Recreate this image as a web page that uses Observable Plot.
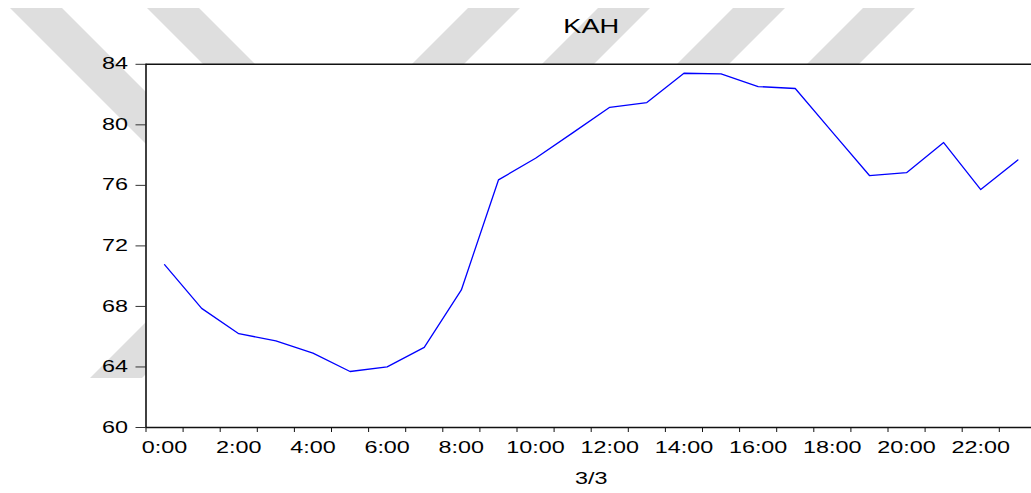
<!DOCTYPE html>
<html>
<head>
<meta charset="utf-8">
<script src="https://cdn.jsdelivr.net/npm/d3@7"></script>
<script src="https://cdn.jsdelivr.net/npm/@observablehq/plot@0.6"></script>
<style>
  html, body { margin: 0; padding: 0; background: #fff; overflow: hidden; }
  #chart { position: relative; width: 1031px; height: 493px; overflow: hidden; }
</style>
</head>
<body>
<div id="chart"></div>
<script>
// Series title and date caption
const title = "KAH";
const dateLabel = "3/3";

// Hour of day (0..23) and hourly KAH readings
const hours = [0, 1, 2, 3, 4, 5, 6, 7, 8, 9, 10, 11, 12, 13, 14, 15, 16, 17, 18, 19, 20, 21, 22, 23];
const kah = [70.76, 67.87, 66.20, 65.73, 64.92, 63.70, 64.01, 65.29, 69.09, 76.36, 77.79, 79.47,
             81.16, 81.47, 83.41, 83.37, 82.53, 82.40, 79.52, 76.65, 76.84, 78.83, 75.72, 77.68];

// Axis ticks
const yTicks = [60, 64, 68, 72, 76, 80, 84];
const labelHours = [0, 2, 4, 6, 8, 10, 12, 14, 16, 18, 20, 22];
const hourLabels = ["0:00", "2:00", "4:00", "6:00", "8:00", "10:00", "12:00", "14:00", "16:00", "18:00", "20:00", "22:00"];
const hourEdges = d3.range(-0.5, 23, 1);

const data = hours.map((h, i) => ({hour: h, value: kah[i]}));

// Light grey diagonal bands drawn behind the chart (pixel polygons)
const watermarkBands = [
  [[10, 8], [62, 8], [254, 200], [202, 200]],
  [[147, 8], [199, 8], [262, 71], [210, 71]],
  [[468, 8], [520, 8], [457, 71], [405, 71]],
  [[598, 8], [650, 8], [587, 71], [535, 71]],
  [[733, 8], [785, 8], [722, 71], [670, 71]],
  [[863, 8], [915, 8], [852, 71], [800, 71]],
  [[90, 378], [142, 378], [202, 318], [150, 318]]
];

function watermark() {
  const g = d3.create("svg:g").attr("fill", "#dedede");
  for (const band of watermarkBands) {
    g.append("polygon").attr("points", band.map(p => p.join(",")).join(" "));
  }
  return g.node();
}

const chart = Plot.plot({
  width: 1031,
  height: 493,
  marginTop: 63.8,
  marginBottom: 66,
  marginLeft: 145.5,
  marginRight: -4.9,
  style: {
    background: "transparent",
    fontFamily: "Arial, 'Liberation Sans', sans-serif",
    fontSize: "16px",
    color: "#000"
  },
  x: {type: "linear", domain: [-0.5, 23.5]},
  y: {domain: [60, 84]},
  marks: [
    watermark,
    Plot.frame({fill: "white", stroke: "none"}),
    Plot.ruleY([84], {stroke: "#111", strokeWidth: 1.6}),
    Plot.axisY({ticks: yTicks, tickSize: 10, tickPadding: 8, tickFormat: d => String(d), label: null, stroke: "#333", strokeOpacity: 1, fill: "#000"}),
    Plot.axisX({ticks: hourEdges, tickSize: 5, tickFormat: () => "", label: null, stroke: "#111", strokeOpacity: 1}),
    Plot.axisX({ticks: labelHours, tickSize: 0, tickPadding: 14, tickFormat: d => hourLabels[labelHours.indexOf(d)], label: null, fill: "#000"}),
    Plot.ruleY([60], {stroke: "#111", strokeWidth: 1.6}),
    Plot.ruleX([-0.5], {stroke: "#111", strokeWidth: 1.6}),
    Plot.line(data, {x: "hour", y: "value", stroke: "#0000ff", strokeWidth: 1.3}),
    Plot.text([title], {frameAnchor: "top", lineAnchor: "bottom", dy: -31.5, fontSize: 20, fill: "#000"}),
    Plot.text([dateLabel], {frameAnchor: "bottom", lineAnchor: "bottom", dy: 56.3, fill: "#000"})
  ]
});

document.getElementById("chart").appendChild(chart);

// The type is drawn wide: widen every label horizontally about its own anchor
chart.querySelectorAll("text").forEach(t => {
  if (!t.textContent) return;
  const k = t.textContent === title ? 1.36 : 1.46;
  const b = t.getBBox();
  const anchor = getComputedStyle(t).textAnchor;
  const ax = anchor === "middle" ? b.x + b.width / 2 : anchor === "end" ? b.x + b.width : b.x;
  const tr = t.getAttribute("transform") || "";
  t.setAttribute("transform", `${tr} translate(${ax},0) scale(${k},1) translate(${-ax},0)`);
});
</script>
</body>
</html>
